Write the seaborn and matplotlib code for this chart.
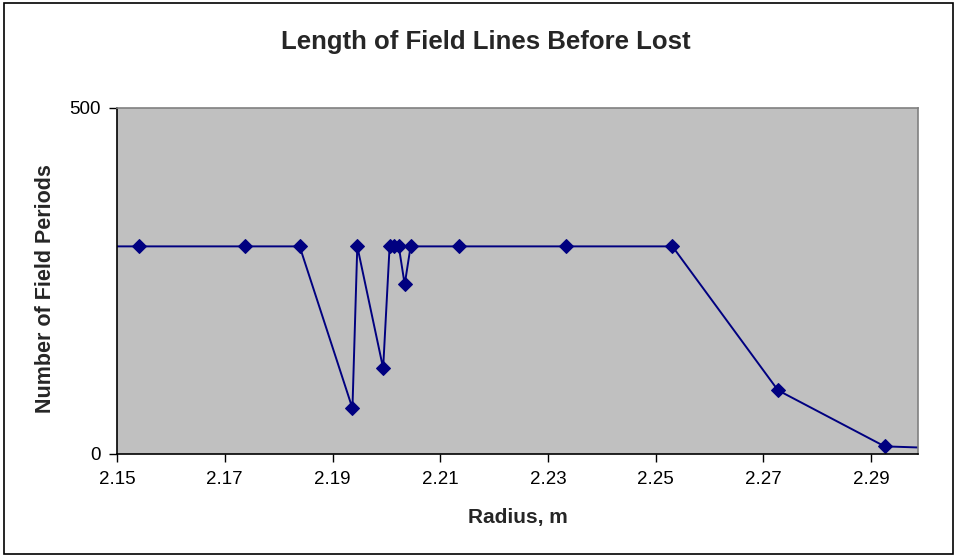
import numpy as np
import pandas as pd

import matplotlib
matplotlib.use('Agg')

import matplotlib.pyplot as plt
from matplotlib.patches import Rectangle

import seaborn as sns

# data (first and last points sit outside the visible axis range)
radius = [2.134, 2.1541, 2.1738, 2.1839, 2.1937, 2.1946, 2.1994, 2.2006, 2.2015,
          2.2023, 2.2034, 2.2045, 2.2134, 2.2333, 2.2531, 2.2727, 2.2925, 2.312]
periods = [300, 300, 300, 300, 66, 300, 124, 300, 300,
           300, 245, 300, 300, 300, 300, 92, 11, 6]
x_ticks = [2.15, 2.17, 2.19, 2.21, 2.23, 2.25, 2.27, 2.29]
y_ticks = [0, 500]

df = pd.DataFrame({'Radius': radius, 'Periods': periods})

sns.set_style('white')
plt.rcParams['font.family'] = ['Liberation Sans', 'DejaVu Sans']

fig = plt.figure(figsize=(9.57, 5.56), dpi=100)
ax = fig.add_axes([0.1223, 0.1835, 0.837, 0.6223])

sns.lineplot(data=df, x='Radius', y='Periods', ax=ax, sort=False, color='#000080',
             linewidth=1.4, marker='D', markersize=7.5, markeredgecolor='#000080')

ax.set_facecolor('#C0C0C0')
ax.set_xlim(2.15, 2.2987)
ax.set_ylim(0, 500)
ax.set_xticks(x_ticks)
ax.set_xticklabels(['%.2f' % v for v in x_ticks], fontsize=13.5)
ax.set_yticks(y_ticks)
ax.set_yticklabels([str(v) for v in y_ticks], fontsize=13.5)
ax.tick_params(axis='both', direction='out', length=6, width=1, colors='black',
               bottom=True, left=True, pad=6)

for side in ['left', 'bottom']:
    ax.spines[side].set_color('black')
    ax.spines[side].set_linewidth(1.2)
for side in ['top', 'right']:
    ax.spines[side].set_color('#808080')
    ax.spines[side].set_linewidth(1.2)

ax.set_xlabel('Radius, m', fontsize=15, fontweight='bold', labelpad=15)
ax.set_ylabel('Number of Field Periods', fontsize=15.5, fontweight='bold', labelpad=4)
ax.yaxis.set_label_coords(-0.076, 0.478)
fig.text(0.508, 0.924, 'Length of Field Lines Before Lost', ha='center', va='center',
         fontsize=18.5, fontweight='bold')

# chart border
fig.patches.append(Rectangle((0.004, 0.004), 0.992, 0.99, transform=fig.transFigure,
                             fill=False, edgecolor='black', linewidth=1.2))

plt.savefig('out.png', dpi=100)
plt.close()
